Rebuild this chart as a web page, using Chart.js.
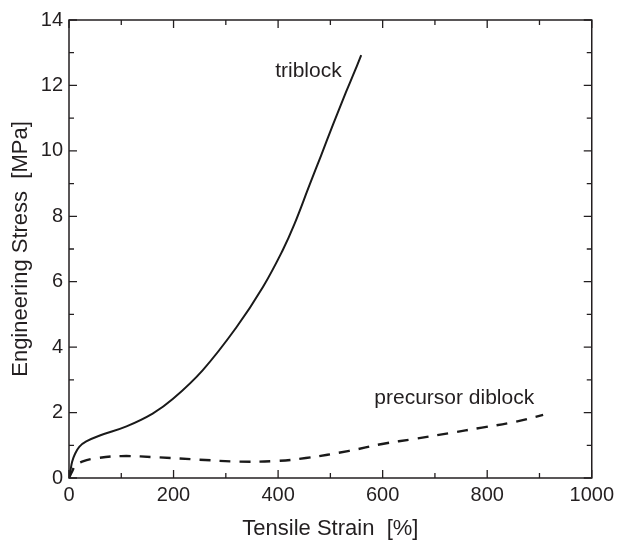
<!DOCTYPE html>
<html>
<head>
<meta charset="utf-8">
<script src="https://cdn.jsdelivr.net/npm/chart.js@4"></script>
<style>
html,body{margin:0;padding:0;background:#fff;}
#wrap{width:619px;height:540px;}
</style>
</head>
<body>
<div id="wrap"><canvas id="c" width="619" height="540"></canvas></div>
<script>
// Data
const triblockStrain = [0, 3, 6, 11, 20, 33, 59, 110, 160, 199, 256, 320, 371, 409, 431, 460, 482, 505, 530, 547, 559];
const triblockStress = [0, 0.25, 0.5, 0.72, 0.96, 1.12, 1.3, 1.58, 1.97, 2.42, 3.3, 4.6, 5.84, 6.97, 7.75, 8.95, 9.85, 10.8, 11.8, 12.45, 12.93];
const diblockStrain = [0, 6, 12, 25, 50, 100, 173, 250, 326, 396, 453, 536, 599, 663, 727, 790, 854, 907];
const diblockStress = [0, 0.2, 0.38, 0.5, 0.6, 0.67, 0.63, 0.56, 0.5, 0.52, 0.61, 0.83, 1.04, 1.2, 1.37, 1.54, 1.72, 1.93];
const xTicks = [0, 200, 400, 600, 800, 1000];
const yTicks = [0, 2, 4, 6, 8, 10, 12, 14];
const xLabel = 'Tensile Strain  [%]';
const yLabel = 'Engineering Stress  [MPa]';
const annotations = [
  {text: 'triblock', x: 458, y: 12.45},
  {text: 'precursor diblock', x: 737, y: 2.45}
];

const FONT = '"Liberation Sans", Arial, Helvetica, sans-serif';
const INK = '#231f20';

const toPts = (xs, ys) => xs.map((x, i) => ({x: x, y: ys[i]}));

const framePlugin = {
  id: 'frame',
  afterDraw(chart) {
    const ctx = chart.ctx;
    const a = chart.chartArea;
    const xs = chart.scales.x, ys = chart.scales.y;
    ctx.save();
    ctx.strokeStyle = INK;
    ctx.lineWidth = 1.5;
    ctx.strokeRect(a.left, a.top, a.right - a.left, a.bottom - a.top);
    ctx.lineWidth = 1.3;
    ctx.beginPath();
    for (let v = 0; v <= 1000; v += 100) {
      const p = xs.getPixelForValue(v);
      const L = (v % 200 === 0) ? 8 : 5;
      ctx.moveTo(p, a.bottom); ctx.lineTo(p, a.bottom - L);
      ctx.moveTo(p, a.top); ctx.lineTo(p, a.top + L);
    }
    for (let v = 0; v <= 14; v += 1) {
      const p = ys.getPixelForValue(v);
      const L = (v % 2 === 0) ? 8 : 5;
      ctx.moveTo(a.left, p); ctx.lineTo(a.left + L, p);
      ctx.moveTo(a.right, p); ctx.lineTo(a.right - L, p);
    }
    ctx.stroke();
    ctx.fillStyle = INK;
    ctx.font = '21px ' + FONT;
    ctx.textAlign = 'center';
    ctx.textBaseline = 'middle';
    annotations.forEach(an => {
      ctx.fillText(an.text, xs.getPixelForValue(an.x), ys.getPixelForValue(an.y));
    });
    ctx.restore();
  }
};

new Chart(document.getElementById('c'), {
  type: 'line',
  data: {
    datasets: [
      {
        label: 'triblock',
        data: toPts(triblockStrain, triblockStress),
        borderColor: '#1a1a1a',
        borderWidth: 2,
        pointRadius: 0,
        fill: false,
        tension: 0.4
      },
      {
        label: 'precursor diblock',
        data: toPts(diblockStrain, diblockStress),
        borderColor: '#1a1a1a',
        borderWidth: 2.4,
        borderDash: [11, 9],
        pointRadius: 0,
        fill: false,
        tension: 0.4
      }
    ]
  },
  options: {
    responsive: false,
    animation: false,
    layout: {padding: {top: 20, right: 26, left: 0, bottom: 0}},
    plugins: {legend: {display: false}, tooltip: {enabled: false}},
    scales: {
      x: {
        type: 'linear', min: 0, max: 1000,
        afterBuildTicks: s => { s.ticks = xTicks.map(v => ({value: v})); },
        afterFit: s => { s.height = 62; },
        grid: {display: false, drawTicks: false},
        border: {display: false},
        ticks: {color: INK, font: {family: FONT, size: 20}, padding: 5, maxRotation: 0, callback: v => String(v)},
        title: {display: true, text: xLabel, color: INK, font: {family: FONT, size: 22}, padding: {top: 0, bottom: -2}}
      },
      y: {
        type: 'linear', min: 0, max: 14,
        afterBuildTicks: s => { s.ticks = yTicks.map(v => ({value: v})); },
        afterFit: s => { s.width = 69; },
        grid: {display: false, drawTicks: false},
        border: {display: false},
        ticks: {color: INK, font: {family: FONT, size: 20}, padding: 6, callback: v => String(v)},
        title: {display: true, text: yLabel, color: INK, font: {family: FONT, size: 22}, padding: {top: 8, bottom: 0}}
      }
    }
  },
  plugins: [framePlugin]
});
</script>
</body>
</html>
